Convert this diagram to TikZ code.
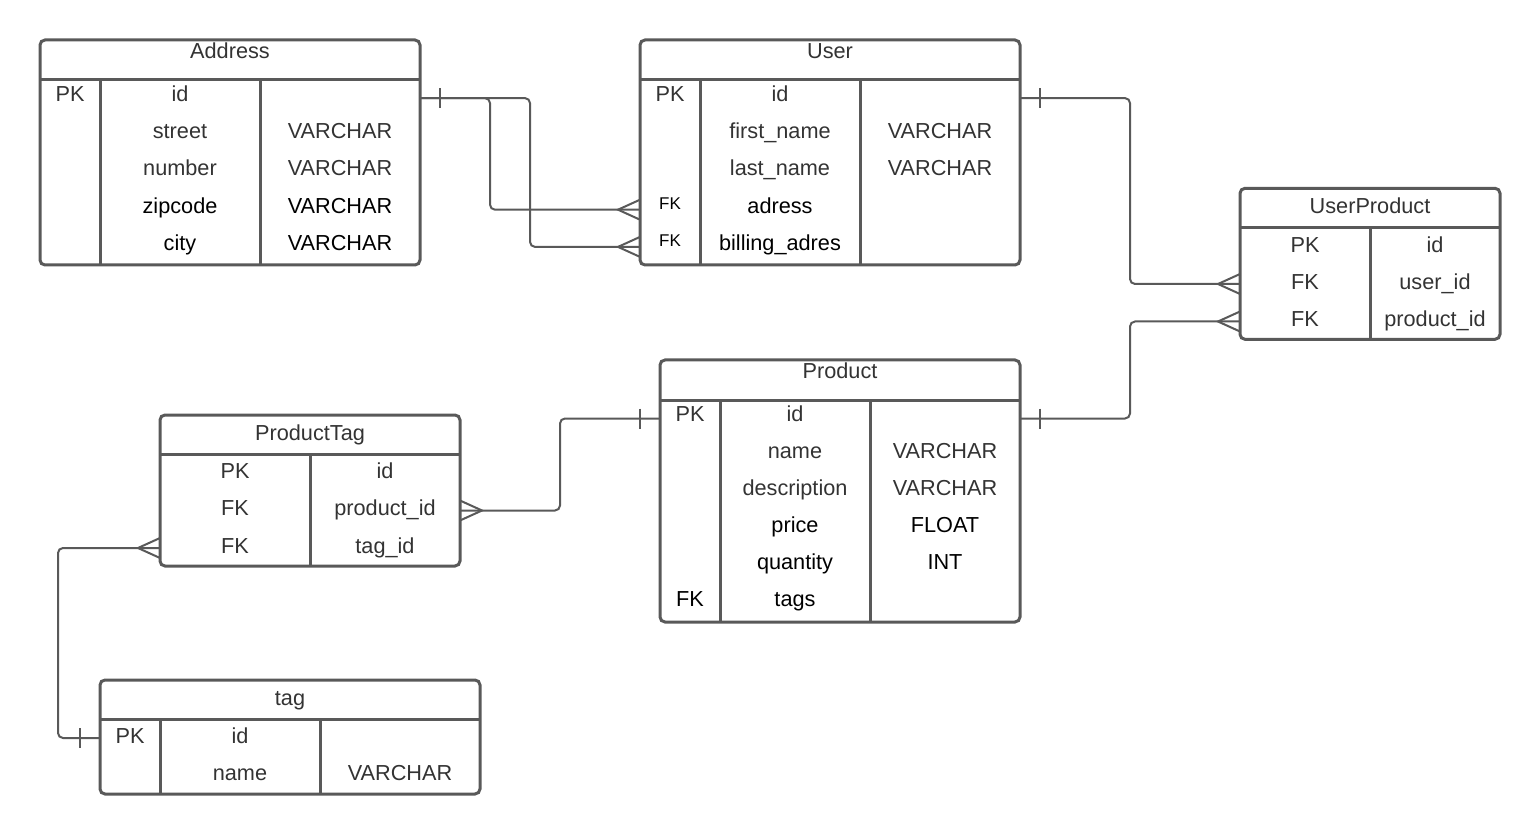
\documentclass[tikz,border=0pt]{standalone}
\usepackage{fontspec}
\setmainfont{Liberation Sans}
\usetikzlibrary{calc}
\definecolor{ln}{HTML}{595959}
\definecolor{tx}{HTML}{333333}
\tikzset{
 tbl/.style={draw=ln, line width=3pt, rounded corners=5pt, inner sep=0pt, outer sep=0pt, anchor=north west},
 sepline/.style={draw=ln, line width=3pt},
 txt/.style={font=\fontsize{21.7}{26}\selectfont, text=tx, anchor=base, inner sep=0pt},
 txtb/.style={txt, text=black},
 fksmall/.style={font=\fontsize{17}{20}\selectfont, text=black, anchor=base, inner sep=0pt},
 conn/.style={draw=ln, line width=2pt, rounded corners=5pt},
 mk/.style={draw=ln, line width=2pt},
}
\begin{document}
\begin{tikzpicture}[x=1pt,y=-1pt]
\useasboundingbox (0,0) rectangle (1540,834);

% ---------- Address ----------
\node[tbl, minimum width=380pt, minimum height=225pt] (addr) at (40,40) {};
\draw[sepline] (40,79.5) -- (420,79.5) (100,79.5) -- (100,265) (260,79.5) -- (260,265);
\node[txt] (addr-h) at (230,58.5) {Address};
\node[txt] (addr-pk) at (70,101.5) {PK};
\node[txt] (addr-id) at (180,101.5) {id};
\node[txt] (addr-street) at (180,138.8) {street};
\node[txt] (addr-streett) at (340,138.8) {VARCHAR};
\node[txt] (addr-number) at (180,176) {number};
\node[txt] (addr-numbert) at (340,176) {VARCHAR};
\node[txtb] (addr-zip) at (180,213.2) {zipcode};
\node[txtb] (addr-zipt) at (340,213.2) {VARCHAR};
\node[txtb] (addr-city) at (180,250.4) {city};
\node[txtb] (addr-cityt) at (340,250.4) {VARCHAR};

% ---------- User ----------
\node[tbl, minimum width=380pt, minimum height=225pt] (user) at (640,40) {};
\draw[sepline] (640,79.5) -- (1020,79.5) (700,79.5) -- (700,265) (860,79.5) -- (860,265);
\node[txt] (user-h) at (830,58.5) {User};
\node[txt] (user-pk) at (670,101.5) {PK};
\node[txt] (user-id) at (780,101.5) {id};
\node[txt] (user-fn) at (780,138.8) {first\_name};
\node[txt] (user-fnt) at (940,138.8) {VARCHAR};
\node[txt] (user-ln) at (780,176) {last\_name};
\node[txt] (user-lnt) at (940,176) {VARCHAR};
\node[fksmall] (user-fk1) at (670,209.7) {FK};
\node[txtb] (user-adr) at (780,213.2) {adress};
\node[fksmall] (user-fk2) at (670,246.9) {FK};
\node[txtb] (user-bill) at (780,250.4) {billing\_adres};

% ---------- UserProduct ----------
\node[tbl, minimum width=260pt, minimum height=151pt] (up) at (1240,188.3) {};
\draw[sepline] (1240,228) -- (1500,228) (1370,228) -- (1370,339.3);
\node[txt] (up-h) at (1370,213.3) {UserProduct};
\node[txt] (up-pk) at (1305,252.5) {PK};
\node[txt] (up-id) at (1435,252.5) {id};
\node[txt] (up-fk1) at (1305,289.8) {FK};
\node[txt] (up-uid) at (1435,289.8) {user\_id};
\node[txt] (up-fk2) at (1305,327) {FK};
\node[txt] (up-pid) at (1435,327) {product\_id};

% ---------- Product ----------
\node[tbl, minimum width=360pt, minimum height=262pt] (prod) at (660,360) {};
\draw[sepline] (660,400) -- (1020,400) (720,400) -- (720,622) (870,400) -- (870,622);
\node[txt] (prod-h) at (840,378.5) {Product};
\node[txt] (prod-pk) at (690,421) {PK};
\node[txt] (prod-id) at (795,421) {id};
\node[txt] (prod-name) at (795,458) {name};
\node[txt] (prod-namet) at (945,458) {VARCHAR};
\node[txt] (prod-desc) at (795,495) {description};
\node[txt] (prod-desct) at (945,495) {VARCHAR};
\node[txtb] (prod-price) at (795,532) {price};
\node[txtb] (prod-pricet) at (945,532) {FLOAT};
\node[txtb] (prod-qty) at (795,569) {quantity};
\node[txtb] (prod-qtyt) at (945,569) {INT};
\node[txtb] (prod-fk) at (690,606) {FK};
\node[txtb] (prod-tags) at (795,606) {tags};

% ---------- ProductTag ----------
\node[tbl, minimum width=300pt, minimum height=151pt] (pt) at (160,415) {};
\draw[sepline] (160,454.5) -- (460,454.5) (310,454.5) -- (310,566);
\node[txt] (pt-h) at (310,440.5) {ProductTag};
\node[txt] (pt-pk) at (235,478.5) {PK};
\node[txt] (pt-id) at (385,478.5) {id};
\node[txt] (pt-fk1) at (235,515.8) {FK};
\node[txt] (pt-pid) at (385,515.8) {product\_id};
\node[txt] (pt-fk2) at (235,553) {FK};
\node[txt] (pt-tid) at (385,553) {tag\_id};

% ---------- tag ----------
\node[tbl, minimum width=380pt, minimum height=114pt] (tag) at (100,680) {};
\draw[sepline] (100,719) -- (480,719) (160,719) -- (160,794) (320,719) -- (320,794);
\node[txt] (tag-h) at (290,705) {tag};
\node[txt] (tag-pk) at (130,743.7) {PK};
\node[txt] (tag-id) at (240,743.7) {id};
\node[txt] (tag-name) at (240,780.7) {name};
\node[txt] (tag-namet) at (400,780.7) {VARCHAR};

% ---------- connector end points ----------
\coordinate (c-addr-id) at (addr.east |- 0,98.1);
\coordinate (c-user-adr) at (user.west |- 0,209.7);
\coordinate (c-user-bill) at (user.west |- 0,246.9);
\coordinate (c-user-id) at (user.east |- 0,98.1);
\coordinate (c-up-uid) at (up.west |- 0,284);
\coordinate (c-up-pid) at (up.west |- 0,321.5);
\coordinate (c-prod-ide) at (prod.east |- 0,418.5);
\coordinate (c-prod-idw) at (prod.west |- 0,418.5);
\coordinate (c-pt-pid) at (pt.east |- 0,510.5);
\coordinate (c-pt-tid) at (pt.west |- 0,548);
\coordinate (c-tag-id) at (tag.west |- 0,738);

% ---------- connectors ----------
\draw[conn] (c-addr-id) -- ++(70,0) |- (c-user-adr);
\draw[conn] (c-addr-id) -- ++(110,0) |- (c-user-bill);
\draw[conn] (c-user-id) -- ++(110,0) |- (c-up-uid);
\draw[conn] (c-prod-ide) -- ++(110,0) |- (c-up-pid);
\draw[conn] (c-prod-idw) -- ++(-100,0) |- (c-pt-pid);
\draw[conn] (c-tag-id) -- ++(-42,0) |- (c-pt-tid);

% one marks
\draw[mk] ($(c-addr-id)+(20,-10)$) -- ++(0,20);
\draw[mk] ($(c-user-id)+(20,-10)$) -- ++(0,20);
\draw[mk] ($(c-prod-ide)+(20,-10)$) -- ++(0,20);
\draw[mk] ($(c-prod-idw)+(-20,-10)$) -- ++(0,20);
\draw[mk] ($(c-tag-id)+(-20,-10)$) -- ++(0,20);

% crow's feet
\draw[mk] ($(c-user-adr)+(0,-10)$) -- ++(-22,10) -- ++(22,10);
\draw[mk] ($(c-user-bill)+(0,-10)$) -- ++(-22,10) -- ++(22,10);
\draw[mk] ($(c-up-uid)+(0,-10)$) -- ++(-22,10) -- ++(22,10);
\draw[mk] ($(c-up-pid)+(0,-10)$) -- ++(-22,10) -- ++(22,10);
\draw[mk] ($(c-pt-tid)+(0,-10)$) -- ++(-22,10) -- ++(22,10);
\draw[mk] ($(c-pt-pid)+(0,-10)$) -- ++(22,10) -- ++(-22,10);
\end{tikzpicture}
\end{document}
